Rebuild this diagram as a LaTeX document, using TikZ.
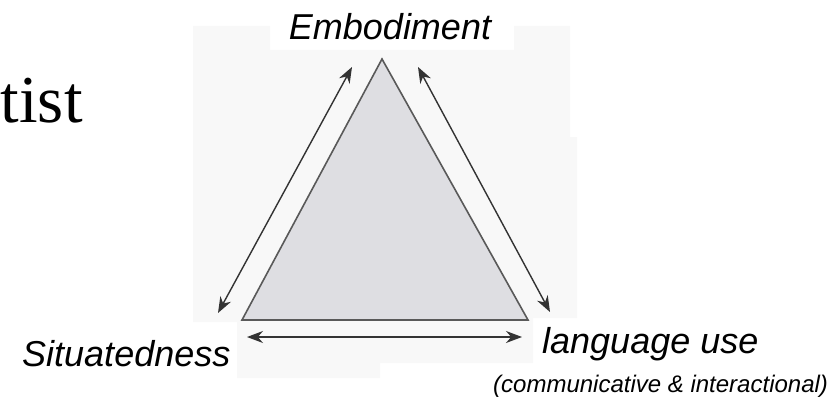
\documentclass[tikz,border=0pt]{standalone}
\usepackage{fontspec}
\setmainfont{Liberation Serif}
\setsansfont{Liberation Sans}
\usetikzlibrary{arrows.meta, positioning}
\definecolor{trifill}{RGB}{222,222,226}
\definecolor{bgpanel}{RGB}{248,248,248}
\tikzset{
  lab/.style = {font=\sffamily\itshape\fontsize{36}{40}\selectfont, inner sep=0pt},
  sublab/.style = {font=\sffamily\itshape\fontsize{24}{28}\selectfont, inner sep=0pt},
  tri/.style = {draw=black!65, fill=trifill, line width=1.6pt, line join=miter},
  seta/.style = {{Stealth[length=16pt, width=12pt]}-{Stealth[length=16pt, width=12pt]},
    line width=1.4pt, draw=black!80},
  ttl/.style = {font=\rmfamily\fontsize{67}{76}\selectfont, inner sep=0pt}
}

\begin{document}
\begin{tikzpicture}[x=1pt, y=-1pt]
  \useasboundingbox (0,0) rectangle (840,401);
  % faint panel behind the figure
  \fill [bgpanel] (193,26) -- (270,26) -- (270,50) -- (514,50) -- (514,26)
    -- (570,26) -- (570,137) -- (577,137) -- (577,318) -- (533,318)
    -- (533,363) -- (380,363) -- (380,378) -- (237,378) -- (237,322)
    -- (193,322) -- cycle;
  \node [ttl, anchor=base west] (ttl) at (0.5,122) {tist};
  % corners
  \coordinate (top) at (382,59);
  \coordinate (bl) at (242,320);
  \coordinate (br) at (528,320);
  \draw [tri] (top) -- (bl) -- (br) -- cycle;
  % arrow ends
  \coordinate (l1) at (352,67);
  \coordinate (l2) at (218,313);
  \coordinate (r1) at (418,67);
  \coordinate (r2) at (550,312);
  \coordinate (b1) at (247,337);
  \coordinate (b2) at (522,337);
  \draw [seta] (l1) -- (l2);
  \draw [seta] (r1) -- (r2);
  \draw [seta] (b1) -- (b2);
  % labels
  \node [lab, anchor=base] (emb) at (390,40) {Embodiment};
  \node [lab, anchor=base west] (sit) at (22,366) {Situatedness};
  \node [lab, anchor=base west] (lang) at (542,353) {language use};
  \node [sublab, anchor=base west] (comm) at (493,392) {(communicative \& interactional)};
\end{tikzpicture}
\end{document}
